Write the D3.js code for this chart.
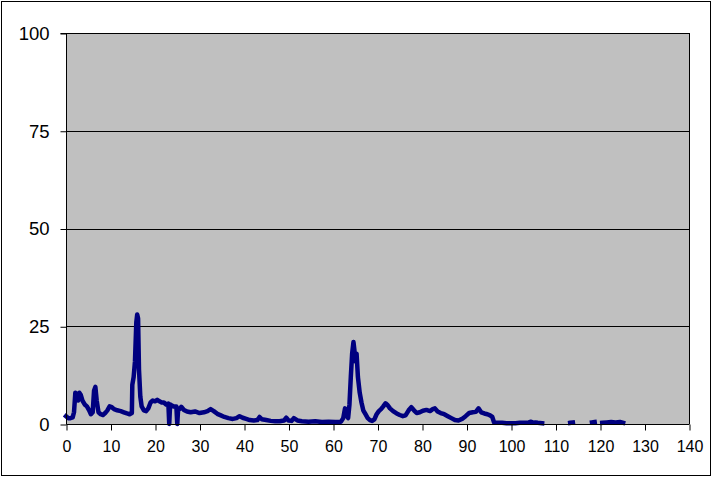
<!DOCTYPE html>
<html>
<head>
<meta charset="utf-8">
<script src="https://cdn.jsdelivr.net/npm/d3@7"></script>
<style>
  html, body { margin: 0; padding: 0; background: #fff; }
  svg { display: block; }
  text { font-family: "Liberation Sans", Arial, sans-serif; fill: #000; }
</style>
</head>
<body>
<svg id="chart" width="712" height="477"></svg>
<script>
// ---- data ----
const xTicks = [0, 10, 20, 30, 40, 50, 60, 70, 80, 90, 100, 110, 120, 130, 140];
const yTicks = [0, 25, 50, 75, 100];

const tValues = [
  0, 0.5, 1.0, 1.5, 1.8, 2.1, 2.4, 2.7, 3.0, 3.3, 3.7, 4.2, 4.7, 5.2, 5.6, 6.0, 6.3, 6.6, 6.9, 7.3,
  7.8, 8.3, 8.8, 9.3, 9.8, 10.3, 10.8, 11.5, 12.3, 13.0, 13.7, 14.3, 14.8, 14.9, 15.2, 15.5, 15.8, 16.0, 16.2, 16.4,
  16.7, 17.0, 17.5, 18.0, 18.5, 19.0, 19.5, 20.0, 20.5, 21.0, 21.5, 22.0, 22.5, 23.0, 23.2, 23.4, 23.7, 24.2, 24.8, 25.0,
  25.2, 25.5, 25.9, 26.5, 27.2, 28.0, 29.0, 30.0, 31.0, 31.8, 32.5, 33.2, 34.0, 34.8, 35.6, 36.5, 37.5, 38.3, 39.0, 39.7,
  40.5, 41.3, 42.2, 43.0, 43.5, 44.0, 45.0, 46.0, 47.0, 48.0, 49.0, 49.5, 50.0, 50.7, 51.2, 52.0, 53.0, 54.5, 56.0, 57.5,
  59.0, 60.5, 61.8, 62.3, 62.7, 63.0, 63.4, 63.7, 64.0, 64.3, 64.6, 64.8, 65.0, 65.3, 65.6, 66.0, 66.4, 66.8, 67.3, 67.8,
  68.3, 68.8, 69.3, 69.8, 70.3, 70.8, 71.3, 71.8, 72.3, 72.8, 73.5, 74.3, 75.0, 75.7, 76.3, 77.0, 77.6, 78.2, 78.8, 79.5,
  80.2, 81.0, 81.8, 82.4, 82.9, 83.5, 84.2, 85.0, 85.8, 86.6, 87.4, 88.2, 89.0, 89.8, 90.6, 91.4, 92.1, 92.7, 93.3, 94.0,
  94.7, 95.3, 95.8, 96.2, 97, 98, 99, 100, 101, 102, 103, 104, 104.5, 105, 105.5, 106, 107, 108,
  113.3, 113.9, 114.2,
  118.2, 118.8, 119.1,
  120.5, 121.5, 122.5, 123.5, 124.5, 125.2
];
const seriesValues = [
  2.0, 1.5, 1.5, 1.7, 3, 8, 7.5, 6, 8, 7.5, 6, 5, 4.5, 3.5, 2.5, 3, 8.5, 9.5, 6, 3,
  2.5, 2.3, 2.8, 3.5, 4.5, 4.3, 3.8, 3.5, 3.3, 3.0, 2.7, 2.5, 2.8, 10, 12, 16, 26, 28, 27, 14,
  7, 4.5, 3.5, 3.3, 4, 5.5, 6.0, 5.8, 6.2, 5.8, 5.5, 5.5, 5.0, 5.2, 0, 5.0, 4.8, 4.5, 4.5, 0,
  3.8, 3.8, 4.4, 3.6, 3.2, 3.0, 3.2, 2.8, 3.0, 3.3, 3.8, 3.3, 2.6, 2.2, 1.8, 1.5, 1.3, 1.5, 2.0, 1.6,
  1.3, 1.0, 0.9, 1.0, 1.8, 1.2, 1.0, 0.8, 0.7, 0.7, 0.9, 1.6, 0.9, 0.8, 1.5, 0.9, 0.7, 0.6, 0.7, 0.5,
  0.6, 0.5, 0.6, 1.5, 4.0, 2.5, 1.5, 5, 12, 18, 21, 19, 16, 18, 12, 8, 5.5, 3.5, 2.5, 1.5,
  1.0, 0.8, 1.2, 2.5, 3.3, 3.8, 4.5, 5.3, 4.8, 4.0, 3.3, 2.7, 2.3, 2.0, 2.2, 3.5, 4.3, 3.5, 2.8, 3.0,
  3.4, 3.6, 3.3, 3.8, 4.0, 3.2, 2.8, 2.5, 2.0, 1.5, 1.0, 0.9, 1.3, 2.0, 2.8, 3.0, 3.1, 4.0, 3.0, 2.7,
  2.5, 2.2, 1.8, 0.4, 0.3, 0.3, 0.2, 0.2, 0.2, 0.3, 0.3, 0.4, 0.6, 0.3, 0.4, 0.3, 0.2, null,
  0.3, 0.4, null,
  0.4, 0.5, null,
  0.3, 0.4, 0.5, 0.4, 0.5, 0.3
];

// ---- layout ----
const svg = d3.select("#chart");
const pLeft = 66, pRight = 689, pTop = 33, pBottom = 424;

const x = d3.scaleLinear().domain([0, 140]).range([pLeft, pRight]);
const y = d3.scaleLinear().domain([0, 100]).range([pBottom, pTop]);

// outer border
svg.append("rect")
  .attr("x", 1.5).attr("y", 1.5).attr("width", 709).attr("height", 474)
  .attr("fill", "#fff").attr("stroke", "#000").attr("stroke-width", 1);

// plot area
svg.append("rect")
  .attr("x", pLeft).attr("y", pTop).attr("width", pRight - pLeft).attr("height", pBottom - pTop)
  .attr("fill", "#C0C0C0");

// gridlines
svg.append("g")
  .selectAll("line")
  .data(yTicks.filter(d => d > 0))
  .join("line")
  .attr("x1", pLeft).attr("x2", pRight)
  .attr("y1", d => Math.round(y(d)) + 0.5).attr("y2", d => Math.round(y(d)) + 0.5)
  .attr("stroke", "#000").attr("stroke-width", 1);

// right border of plot area
svg.append("line")
  .attr("x1", pRight + 0.5).attr("x2", pRight + 0.5).attr("y1", pTop).attr("y2", pBottom)
  .attr("stroke", "#000").attr("stroke-width", 1);

// data line
const pts = tValues.map((t, i) => ({ t: t, v: seriesValues[i] }));
const line = d3.line()
  .defined(d => d.v !== null)
  .x(d => x(d.t))
  .y(d => y(d.v))
  .curve(d3.curveLinear);

svg.append("path")
  .datum(pts)
  .attr("d", line)
  .attr("fill", "none")
  .attr("stroke", "#000080")
  .attr("stroke-width", 4.5)
  .attr("stroke-linejoin", "round")
  .attr("stroke-linecap", "square");

// y axis
const yAxis = d3.axisLeft(y).tickValues(yTicks).tickSize(6).tickPadding(11).tickFormat(d3.format("d"));
const gy = svg.append("g").attr("transform", `translate(${pLeft + 0.5},0.5)`).call(yAxis);
gy.select(".domain").attr("stroke", "#000").attr("d", `M-6,${y(100)}H0V${y(0)}`);
gy.selectAll(".tick line").attr("stroke", "#000");
gy.selectAll(".tick text")
  .style("font-family", '"Liberation Sans", Arial, sans-serif')
  .style("font-size", "18.5px").attr("fill", "#000");

// x axis
const xAxis = d3.axisBottom(x).tickValues(xTicks).tickSize(6).tickPadding(10).tickFormat(d3.format("d"));
const gx = svg.append("g").attr("transform", `translate(0.5,${pBottom + 0.5})`).call(xAxis);
gx.select(".domain").attr("stroke", "#000").attr("d", `M${x(0)},0H${x(140)}`);
gx.selectAll(".tick line").attr("stroke", "#000");
gx.selectAll(".tick text")
  .style("font-family", '"Liberation Sans", Arial, sans-serif')
  .style("font-size", "16px").attr("fill", "#000");
</script>
</body>
</html>
